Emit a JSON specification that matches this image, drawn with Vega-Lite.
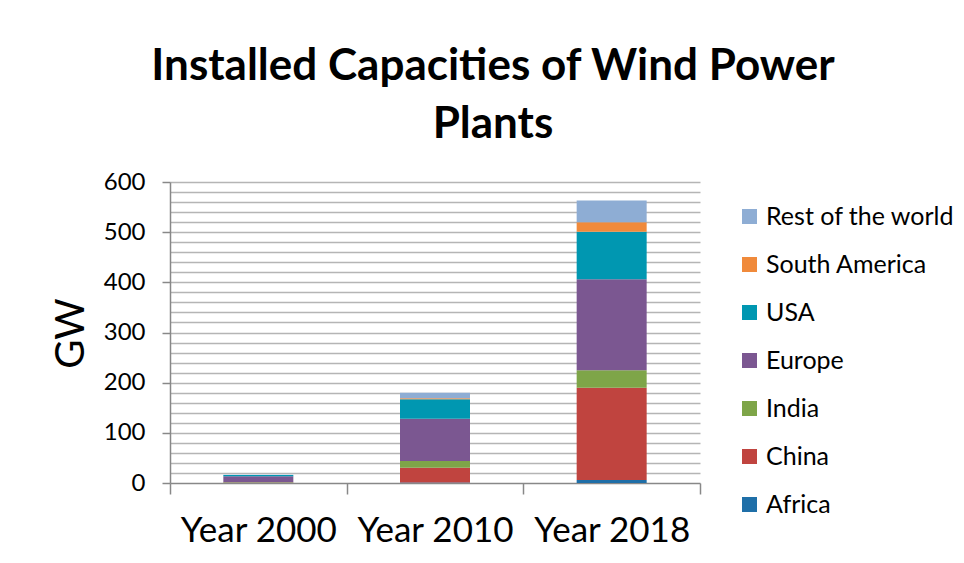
{
  "$schema": "https://vega.github.io/schema/vega-lite/v6.json",
  "width": 530,
  "height": 301,
  "autosize": {"type": "none"},
  "padding": {"left": 170, "top": 182, "right": 264, "bottom": 80},
  "background": "white",
  "title": {
    "text": ["Installed Capacities of Wind Power", "Plants"],
    "font": "Lato",
    "fontSize": 44,
    "fontWeight": "bold",
    "color": "black",
    "anchor": "middle",
    "frame": "group",
    "dx": 58,
    "lineHeight": 58,
    "offset": 23
  },
  "data": {
    "values": [
      {"year": "Year 2000", "region": "Africa", "k": 1, "gw": 0.1},
      {"year": "Year 2000", "region": "China", "k": 2, "gw": 0.4},
      {"year": "Year 2000", "region": "India", "k": 3, "gw": 1.0},
      {"year": "Year 2000", "region": "Europe", "k": 4, "gw": 12.0},
      {"year": "Year 2000", "region": "USA", "k": 5, "gw": 2.5},
      {"year": "Year 2000", "region": "South America", "k": 6, "gw": 0.1},
      {"year": "Year 2000", "region": "Rest of the world", "k": 7, "gw": 0.4},
      {"year": "Year 2010", "region": "Africa", "k": 1, "gw": 1.0},
      {"year": "Year 2010", "region": "China", "k": 2, "gw": 29.5},
      {"year": "Year 2010", "region": "India", "k": 3, "gw": 13.5},
      {"year": "Year 2010", "region": "Europe", "k": 4, "gw": 84},
      {"year": "Year 2010", "region": "USA", "k": 5, "gw": 39},
      {"year": "Year 2010", "region": "South America", "k": 6, "gw": 2},
      {"year": "Year 2010", "region": "Rest of the world", "k": 7, "gw": 11},
      {"year": "Year 2018", "region": "Africa", "k": 1, "gw": 6},
      {"year": "Year 2018", "region": "China", "k": 2, "gw": 184},
      {"year": "Year 2018", "region": "India", "k": 3, "gw": 35},
      {"year": "Year 2018", "region": "Europe", "k": 4, "gw": 181},
      {"year": "Year 2018", "region": "USA", "k": 5, "gw": 95},
      {"year": "Year 2018", "region": "South America", "k": 6, "gw": 19},
      {"year": "Year 2018", "region": "Rest of the world", "k": 7, "gw": 43}
    ]
  },
  "mark": {"type": "bar", "size": 70},
  "encoding": {
    "x": {
      "field": "year",
      "type": "nominal",
      "scale": {"paddingInner": 0, "paddingOuter": 0},
      "axis": {
        "title": null,
        "labelAngle": 0,
        "labelFont": "Lato",
        "labelFontSize": 35,
        "labelColor": "black",
        "labelBaseline": "alphabetic",
        "labelPadding": 47,
        "tickBand": "extent",
        "tickSize": 11,
        "tickColor": "#888888",
        "tickWidth": 1.5,
        "domainColor": "#888888",
        "domainWidth": 1.5,
        "grid": false
      }
    },
    "y": {
      "field": "gw",
      "type": "quantitative",
      "stack": "zero",
      "scale": {"domain": [0, 600], "nice": false},
      "axis": {
        "title": "GW",
        "titleFont": "Lato",
        "titleFontSize": 40,
        "titleFontWeight": "normal",
        "titleColor": "black",
        "titleX": -99,
        "titleY": 151,
        "titleAngle": -90,
        "titleAlign": "center",
        "titleBaseline": "middle",
        "values": [0, 20, 40, 60, 80, 100, 120, 140, 160, 180, 200, 220, 240, 260, 280, 300, 320, 340, 360, 380, 400, 420, 440, 460, 480, 500, 520, 540, 560, 580, 600],
        "labelExpr": "datum.value % 100 === 0 ? datum.label : ''",
        "labelFont": "Lato",
        "labelFontSize": 24,
        "labelColor": "black",
        "labelPadding": 17,
        "tickSize": 8,
        "tickColor": "#888888",
        "tickWidth": 1.5,
        "tickOpacity": {"condition": {"test": "datum.value % 100 === 0", "value": 1}, "value": 0},
        "domainColor": "#888888",
        "domainWidth": 1.5,
        "grid": true,
        "gridColor": "#b5b5b5",
        "gridWidth": 1.5,
        "gridOpacity": {"condition": {"test": "datum.value === 0", "value": 0}, "value": 1}
      }
    },
    "color": {
      "field": "region",
      "type": "nominal",
      "scale": {
        "domain": ["Rest of the world", "South America", "USA", "Europe", "India", "China", "Africa"],
        "range": ["#8eadd4", "#f08a3b", "#0097b1", "#7b5791", "#7ea548", "#c0443f", "#1f6fa8"]
      },
      "legend": {
        "title": null,
        "orient": "none",
        "legendX": 567,
        "legendY": 22,
        "padding": 0,
        "symbolType": "square",
        "symbolSize": 225,
        "symbolStrokeWidth": 0,
        "labelFont": "Lato",
        "labelFontSize": 25,
        "labelColor": "black",
        "labelOffset": 4,
        "rowPadding": 22,
        "labelLimit": 300
      }
    },
    "order": {"field": "k", "type": "quantitative", "sort": "ascending"}
  },
  "config": {
    "view": {"stroke": null},
    "font": "Lato"
  }
}
